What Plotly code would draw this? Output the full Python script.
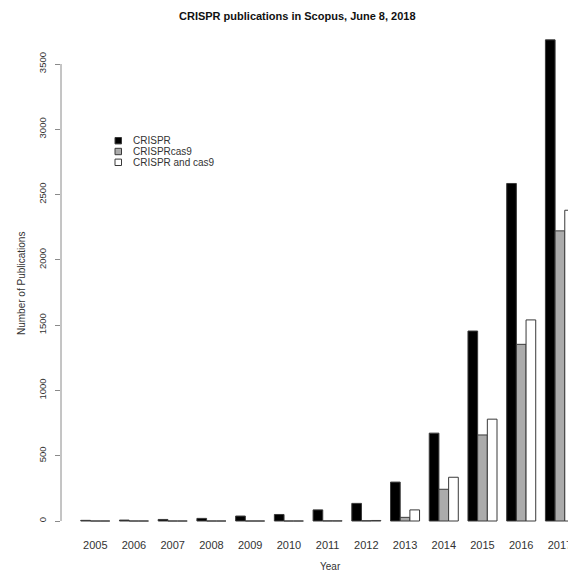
import plotly.graph_objects as go

years = ["2005", "2006", "2007", "2008", "2009", "2010", "2011",
         "2012", "2013", "2014", "2015", "2016", "2017"]
series_names = ["CRISPR", "CRISPRcas9", "CRISPR and cas9"]
crispr = [5, 7, 12, 20, 38, 50, 85, 135, 298, 673, 1455, 2585, 3685]
crispr_cas9 = [0, 0, 0, 0, 0, 0, 1, 2, 28, 243, 659, 1353, 2222]
crispr_and_cas9 = [0, 0, 0, 0, 0, 0, 1, 4, 85, 335, 780, 1540, 2380]
y_ticks = [0, 500, 1000, 1500, 2000, 2500, 3000, 3500]

# the page body adds an 8px margin, so the figure is drawn 8px smaller
OFF = 8
W, H = 576 - OFF, 573 - OFF
L, R, T, B = 61 - OFF, 0, 20 - OFF, 38
fills = ["#000000", "#ababab", "#ffffff"]
values = [crispr, crispr_cas9, crispr_and_cas9]

fig = go.Figure()
for name, vals, col in zip(series_names, values, fills):
    fig.add_trace(go.Bar(x=years, y=vals, name=name, marker_color=col,
                         marker_line_color="#3a3a3a", marker_line_width=1,
                         showlegend=False))

pw, ph = W - L - R, H - T - B
def px_x(p):  # p in screen pixels
    return (p - OFF - L) / pw
def px_y(p):
    return 1 - (p - OFF - T) / ph

shapes = [dict(type="line", xref="paper", yref="y", x0=0, x1=0,
               y0=y_ticks[0], y1=y_ticks[-1], line=dict(color="#8a8a8a", width=1))]
annotations = []
row_y = [140.7, 151.5, 162.3]
for name, col, ry in zip(series_names, fills, row_y):
    shapes.append(dict(type="rect", xref="paper", yref="paper",
                       x0=px_x(115), x1=px_x(121.5), y0=px_y(ry + 3.2), y1=px_y(ry - 3.2),
                       fillcolor=col, line=dict(color="#3a3a3a", width=1)))
    annotations.append(dict(xref="paper", yref="paper", x=px_x(131), y=px_y(ry),
                            xanchor="left", yanchor="middle", text=name, showarrow=False,
                            font=dict(size=10, color="#333333")))

annotations.append(dict(xref="paper", yref="paper", x=px_x(330), y=px_y(566),
                        xanchor="center", yanchor="middle", text="Year", showarrow=False,
                        font=dict(size=10, color="#333333")))
annotations.append(dict(xref="paper", yref="paper", x=px_x(21.5), y=px_y(283.5),
                        xanchor="center", yanchor="middle", text="Number of Publications",
                        textangle=-90, showarrow=False,
                        font=dict(size=10, color="#333333")))
annotations.append(dict(xref="paper", yref="paper", x=px_x(297), y=px_y(16),
                        xanchor="center", yanchor="middle",
                        text="<b>CRISPR publications in Scopus, June 8, 2018</b>",
                        showarrow=False, font=dict(size=11, color="#111111")))

fig.update_layout(
    width=W, height=H,
    margin=dict(l=L, r=R, t=T, b=B, autoexpand=False),
    paper_bgcolor="white", plot_bgcolor="white",
    barmode="group", bargap=0.25, bargroupgap=0,
    font=dict(family="Liberation Sans, Arial, sans-serif", color="#333333"),
    shapes=shapes, annotations=annotations,
    xaxis=dict(range=[-0.885, 12.415], showline=False, showgrid=False, zeroline=False,
               ticks="", ticklabelstandoff=2, tickfont=dict(size=11, color="#333333")),
    yaxis=dict(range=[-107.2, 3837], tickvals=y_ticks, ticktext=[str(v) for v in y_ticks],
               tickangle=-90, ticks="outside", ticklen=5, tickcolor="#8a8a8a",
               ticklabelstandoff=5,
               showline=False, showgrid=False, zeroline=False,
               tickfont=dict(size=9.5, color="#333333")),
)

fig.write_html("out.html")
